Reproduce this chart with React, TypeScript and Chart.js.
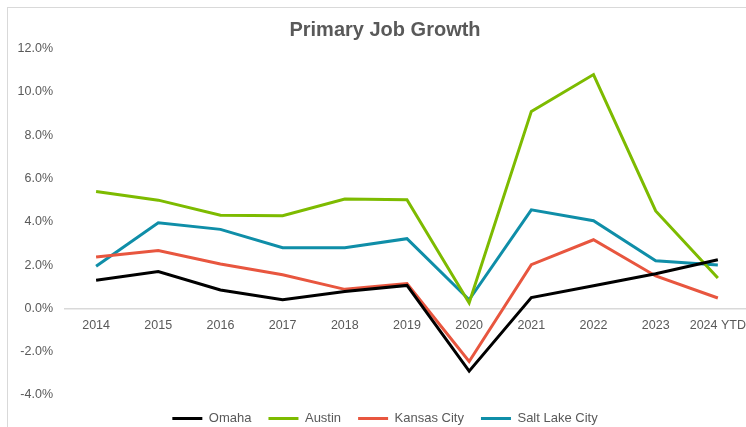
import React, { useEffect, useRef } from "react";
import { Chart, registerables } from "chart.js";

Chart.register(...registerables);

const categories = ["2014", "2015", "2016", "2017", "2018", "2019", "2020", "2021", "2022", "2023", "2024 YTD"];
const omaha = [1.3, 1.7, 0.85, 0.4, 0.78, 1.06, -2.9, 0.5, 1.05, 1.6, 2.25];
const austin = [5.4, 5.0, 4.3, 4.28, 5.05, 5.02, 0.25, 9.1, 10.8, 4.5, 1.4];
const kansasCity = [2.37, 2.67, 2.05, 1.55, 0.88, 1.15, -2.45, 2.02, 3.17, 1.5, 0.48];
const saltLakeCity = [1.95, 3.95, 3.65, 2.8, 2.8, 3.22, 0.4, 4.55, 4.05, 2.2, 2.0];
const yMin = -4;
const yMax = 12;
const yStep = 2;

export default function App() {
  const ref = useRef<HTMLCanvasElement>(null);
  useEffect(() => {
    if (!ref.current) return;
    const mk = (label: string, data: number[], color: string) => ({
      label,
      data,
      borderColor: color,
      backgroundColor: color,
      borderWidth: 3,
      pointRadius: 0,
      pointHoverRadius: 0,
      tension: 0,
      pointStyle: "line" as const,
    });
    const chart = new Chart(ref.current, {
      type: "line",
      data: {
        labels: categories,
        datasets: [
          mk("Omaha", omaha, "#000000"),
          mk("Austin", austin, "#7DBB00"),
          mk("Kansas City", kansasCity, "#E8563F"),
          mk("Salt Lake City", saltLakeCity, "#0F8EA8"),
        ],
      },
      options: {
        animation: false,
        responsive: true,
        maintainAspectRatio: false,
        layout: { padding: 0 },
        plugins: {
          title: {
            display: true,
            text: "Primary Job Growth",
            color: "#595959",
            font: { family: "'Liberation Sans', Arial, sans-serif", size: 20, weight: "bold" },
            padding: { top: 18, bottom: 6.6 },
          },
          legend: {
            position: "bottom",
            labels: {
              usePointStyle: true,
              pointStyleWidth: 30,
              padding: 17,
              color: "#595959",
              font: { family: "'Liberation Sans', Arial, sans-serif", size: 13 },
            },
          },
          tooltip: { enabled: false },
        },
        scales: {
          x: {
            position: { y: 0 } as any,
            offset: true,
            grid: { display: false, drawTicks: false },
            border: { display: true, color: "#d9d9d9", width: 1.5 },
            ticks: {
              color: "#595959",
              padding: 10,
              maxRotation: 0,
              autoSkip: false,
              font: { family: "'Liberation Sans', Arial, sans-serif", size: 12.5 },
            },
            afterFit: (s: any) => {
              s.height = 0;
            },
          },
          y: {
            min: yMin,
            max: yMax,
            grid: { display: false, drawTicks: false },
            border: { display: false },
            ticks: {
              stepSize: yStep,
              padding: 12,
              color: "#595959",
              font: { family: "'Liberation Sans', Arial, sans-serif", size: 12.5 },
              callback: (v: any) => Number(v).toFixed(1) + "%",
            },
            afterFit: (s: any) => {
              s.width = 51;
            },
          },
        },
      },
    });
    return () => chart.destroy();
  }, []);
  return (
    <div style={{ position: "fixed", left: 0, top: 0, width: 746, height: 427, overflow: "hidden", background: "#fff" }}>
      <div style={{ position: "absolute", left: 7, top: 7, width: 739, height: 420, borderLeft: "1.5px solid #d9d9d9", borderTop: "1.5px solid #d9d9d9" }} />
      <div style={{ position: "absolute", left: 14, top: 0, width: 742, height: 435 }}>
        <canvas ref={ref} />
      </div>
    </div>
  );
}
